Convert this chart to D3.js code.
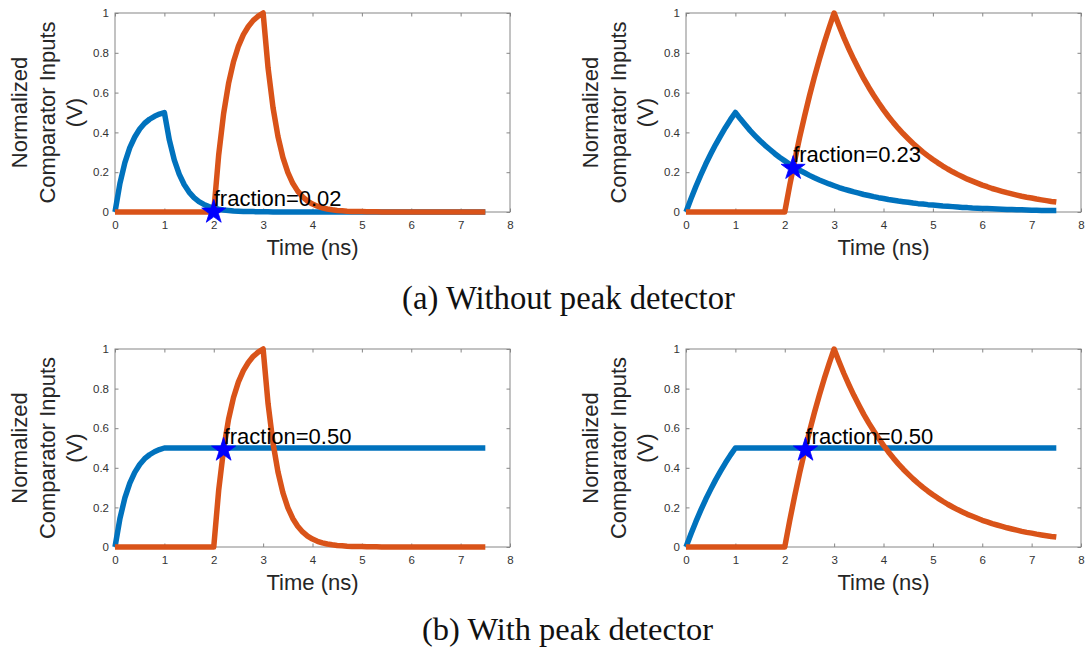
<!DOCTYPE html>
<html><head><meta charset="utf-8">
<script src="https://cdn.jsdelivr.net/npm/d3@7"></script>
<style>body{margin:0;background:#fff}svg{display:block}</style>
</head><body>
<svg id="c" width="1085" height="650"></svg>
<script>
// ---------- data ----------
const timeNs = [0,0.1,0.2,0.3,0.4,0.5,0.6,0.7,0.8,0.9,1.0,1.1,1.2,1.3,1.4,1.5,1.6,1.7,1.8,1.9,2.0,
  2.1,2.2,2.3,2.4,2.5,2.6,2.7,2.8,2.9,3.0,3.1,3.2,3.3,3.4,3.5,3.6,3.7,3.8,3.9,4.0,
  4.1,4.2,4.3,4.4,4.5,4.6,4.7,4.8,4.9,5.0,5.1,5.2,5.3,5.4,5.5,5.6,5.7,5.8,5.9,6.0,
  6.1,6.2,6.3,6.4,6.5,6.6,6.7,6.8,6.9,7.0,7.1,7.2,7.3,7.4,7.5];

const xTicks = [0,1,2,3,4,5,6,7,8];
const xTickLabels = ['0','1','2','3','4','5','6','7','8'];
const yTicks = [0,0.2,0.4,0.6,0.8,1];
const yTickLabels = ['0','0.2','0.4','0.6','0.8','1'];

// (a) without peak detector, fast pulse (left)
const topLeftBlue = [0,0.144,0.248,0.323,0.377,0.417,0.446,0.466,0.481,0.492,0.5,
  0.362,0.262,0.190,0.138,0.100,0.072,0.052,0.038,0.027,0.020,
  0.014,0.010,0.008,0.005,0.004,0.003,0.002,0.002,0.001,0.001,
  0.001,0,0,0,0,0,0,0,0,0,
  0,0,0,0,0,0,0,0,0,0,
  0,0,0,0,0,0,0,0,0,0,
  0,0,0,0,0,0,0,0,0,0,
  0,0,0,0,0];
const leftRed = [0,0,0,0,0,0,0,0,0,0,0,0,0,0,0,0,0,0,0,0,0,
  0.287,0.495,0.646,0.755,0.834,0.891,0.932,0.963,0.984,1.0,
  0.724,0.525,0.380,0.275,0.199,0.144,0.105,0.076,0.055,0.040,
  0.029,0.021,0.015,0.011,0.008,0.006,0.004,0.003,0.002,0.002,
  0.001,0.001,0.001,0,0,0,0,0,0,0,
  0,0,0,0,0,0,0,0,0,0,
  0,0,0,0,0];
// (a) without peak detector, slow pulse (right)
const topRightBlue = [0,0.066,0.128,0.186,0.241,0.291,0.339,0.383,0.425,0.464,0.5,
  0.468,0.438,0.409,0.383,0.358,0.335,0.314,0.293,0.274,0.257,
  0.240,0.225,0.210,0.197,0.184,0.172,0.161,0.151,0.141,0.132,
  0.123,0.115,0.108,0.101,0.095,0.088,0.083,0.077,0.072,0.068,
  0.063,0.059,0.055,0.052,0.049,0.045,0.042,0.040,0.037,0.035,
  0.033,0.030,0.029,0.027,0.025,0.023,0.022,0.020,0.019,0.018,
  0.017,0.016,0.015,0.014,0.013,0.012,0.011,0.011,0.010,0.009,
  0.009,0.008,0.008,0.007,0.007];
const rightRed = [0,0,0,0,0,0,0,0,0,0,0,0,0,0,0,0,0,0,0,0,0,
  0.133,0.256,0.373,0.481,0.583,0.678,0.766,0.850,0.927,1.0,
  0.936,0.875,0.819,0.766,0.717,0.670,0.627,0.587,0.549,0.513,
  0.480,0.449,0.420,0.393,0.368,0.344,0.322,0.301,0.282,0.264,
  0.247,0.231,0.216,0.202,0.189,0.177,0.165,0.155,0.145,0.135,
  0.127,0.118,0.111,0.104,0.097,0.091,0.085,0.079,0.074,0.070,
  0.065,0.061,0.057,0.053,0.050];
// (b) with peak detector
const bottomLeftBlue = [0,0.144,0.248,0.323,0.377,0.417,0.446,0.466,0.481,0.492,0.5,
  0.5,0.5,0.5,0.5,0.5,0.5,0.5,0.5,0.5,0.5,
  0.5,0.5,0.5,0.5,0.5,0.5,0.5,0.5,0.5,0.5,
  0.5,0.5,0.5,0.5,0.5,0.5,0.5,0.5,0.5,0.5,
  0.5,0.5,0.5,0.5,0.5,0.5,0.5,0.5,0.5,0.5,
  0.5,0.5,0.5,0.5,0.5,0.5,0.5,0.5,0.5,0.5,
  0.5,0.5,0.5,0.5,0.5,0.5,0.5,0.5,0.5,0.5,
  0.5,0.5,0.5,0.5,0.5];
const bottomRightBlue = [0,0.066,0.128,0.186,0.241,0.291,0.339,0.383,0.425,0.464,0.5,
  0.5,0.5,0.5,0.5,0.5,0.5,0.5,0.5,0.5,0.5,
  0.5,0.5,0.5,0.5,0.5,0.5,0.5,0.5,0.5,0.5,
  0.5,0.5,0.5,0.5,0.5,0.5,0.5,0.5,0.5,0.5,
  0.5,0.5,0.5,0.5,0.5,0.5,0.5,0.5,0.5,0.5,
  0.5,0.5,0.5,0.5,0.5,0.5,0.5,0.5,0.5,0.5,
  0.5,0.5,0.5,0.5,0.5,0.5,0.5,0.5,0.5,0.5,
  0.5,0.5,0.5,0.5,0.5];

const starX = [2.0, 2.17, 2.2, 2.42];
const starY = [0.0, 0.22, 0.49, 0.49];
const fractionLabels = ['fraction=0.02','fraction=0.23','fraction=0.50','fraction=0.50'];
const xLabel = 'Time (ns)';
const yLabelLines = ['Normalized','Comparator Inputs','(V)'];
const captions = ['(a) Without peak detector','(b) With peak detector'];

// ---------- drawing ----------
const svg = d3.select('#c');
const BLUE = '#0072BD', RED = '#D95319';
const SANS = '"Liberation Sans", Arial, Helvetica, sans-serif';

const panels = [
  {left:115, right:510, top:13, bottom:212, blue:topLeftBlue, red:leftRed, i:0},
  {left:686, right:1081, top:13, bottom:212, blue:topRightBlue, red:rightRed, i:1},
  {left:115, right:510, top:349, bottom:547, blue:bottomLeftBlue, red:leftRed, i:2},
  {left:686, right:1081, top:349, bottom:547, blue:bottomRightBlue, red:rightRed, i:3}
];

panels.forEach(p => {
  const x = d3.scaleLinear().domain([0,8]).range([p.left, p.right]);
  const y = d3.scaleLinear().domain([0,1]).range([p.bottom, p.top]);
  const g = svg.append('g');
  const axisColor = '#868686', textColor = '#333333', tick = 3.5;

  // box
  g.append('rect').attr('x', p.left).attr('y', p.top)
    .attr('width', p.right - p.left).attr('height', p.bottom - p.top)
    .attr('fill', 'none').attr('stroke', axisColor).attr('stroke-width', 1);

  const styleAxis = sel => {
    sel.select('.domain').remove();
    sel.selectAll('line').attr('stroke', axisColor);
    sel.selectAll('text').attr('fill', textColor)
      .style('font-family', SANS).style('font-size', '11.5px');
  };

  g.append('g').attr('transform', `translate(0,${p.bottom})`)
    .call(d3.axisBottom(x).tickValues(xTicks).tickFormat((d,i)=>xTickLabels[i])
      .tickSizeInner(-tick).tickSizeOuter(0).tickPadding(9))
    .call(styleAxis);
  g.append('g').attr('transform', `translate(0,${p.top})`)
    .call(d3.axisTop(x).tickValues(xTicks).tickFormat('')
      .tickSizeInner(-tick).tickSizeOuter(0))
    .call(styleAxis);
  g.append('g').attr('transform', `translate(${p.left},0)`)
    .call(d3.axisLeft(y).tickValues(yTicks).tickFormat((d,i)=>yTickLabels[i])
      .tickSizeInner(-tick).tickSizeOuter(0).tickPadding(6))
    .call(styleAxis);
  g.append('g').attr('transform', `translate(${p.right},0)`)
    .call(d3.axisRight(y).tickValues(yTicks).tickFormat('')
      .tickSizeInner(-tick).tickSizeOuter(0))
    .call(styleAxis);

  // lines
  const line = d3.line().x((d,i)=>x(timeNs[i])).y(d=>y(d));
  g.append('path').datum(p.blue).attr('d', line).attr('fill','none')
    .attr('stroke', BLUE).attr('stroke-width', 5.5).attr('stroke-linejoin','round');
  g.append('path').datum(p.red).attr('d', line).attr('fill','none')
    .attr('stroke', RED).attr('stroke-width', 5.5).attr('stroke-linejoin','round');

  // star marker
  const sx = starX[p.i], sy = starY[p.i];
  g.append('path').attr('d', d3.symbol(d3.symbolStar, 180)())
    .attr('transform', `translate(${x(sx)},${y(sy)})`)
    .attr('fill', '#0000FF').attr('stroke', '#0000FF').attr('stroke-width', 0.8);

  g.append('text').attr('x', x(sx)).attr('y', y(sy + 0.07))
    .attr('dominant-baseline', 'central')
    .style('font-family', SANS).style('font-size', '22px').attr('fill', '#000')
    .text(fractionLabels[p.i]);

  // axis labels
  g.append('text').attr('x', (p.left + p.right)/2).attr('y', p.bottom + 43)
    .attr('text-anchor', 'middle').attr('fill', '#262626')
    .style('font-family', SANS).style('font-size', '22px').text(xLabel);
  const yc = (p.top + p.bottom)/2;
  const offs = [-88, -60.5, -33];
  yLabelLines.forEach((t, k) => {
    g.append('text').attr('transform', `translate(${p.left + offs[k]},${yc}) rotate(-90)`)
      .attr('text-anchor', 'middle').attr('fill', '#262626')
      .style('font-family', SANS).style('font-size', '22px').text(t);
  });
});

// captions
const capSpec = [{cx:568.5, y:309, w:333}, {cx:567.5, y:640, w:291}];
captions.forEach((c, k) => {
  const t = svg.append('text').attr('x', capSpec[k].cx).attr('y', capSpec[k].y)
    .attr('text-anchor', 'middle').attr('fill', '#111')
    .style('font-family', '"Liberation Serif", "DejaVu Serif", serif')
    .style('font-size', '24px').text(c);
  const len = t.node().getComputedTextLength();
  if (len > 0) t.style('font-size', (24 * capSpec[k].w / len).toFixed(2) + 'px');
});
</script>
</body></html>
